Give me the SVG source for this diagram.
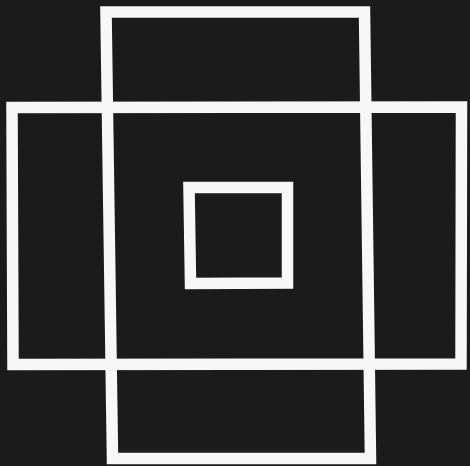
<svg xmlns="http://www.w3.org/2000/svg" width="470" height="466" viewBox="0 0 470 466">
  <style>
    .frame { fill: none; stroke: #f7f7f7; stroke-width: 11.5; stroke-linejoin: miter; }
  </style>
  <rect x="0" y="0" width="470" height="466" fill="#1b1b1b"/>
  <g id="horizontal-frame">
    <polygon class="frame" points="12,107.5 461.5,107 461,364 13,364.5"/>
  </g>
  <g id="vertical-frame">
    <polygon class="frame" points="106,12 364.5,12 370.5,458.5 112.5,458.5"/>
  </g>
  <g id="center-square">
    <polygon class="frame" points="189,187.5 287.5,187.5 287.5,283 190.5,283.5"/>
  </g>
</svg>
